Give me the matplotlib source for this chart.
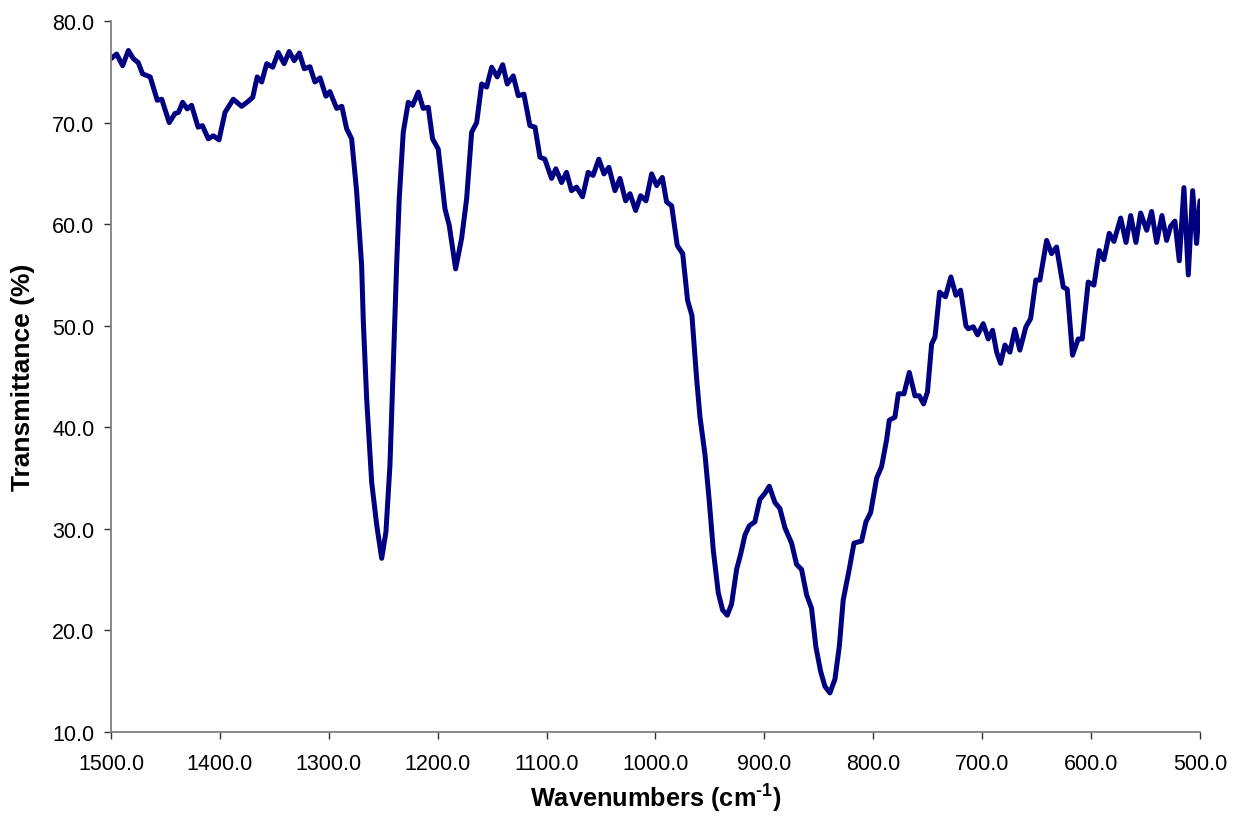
import numpy as np
import matplotlib
matplotlib.use('Agg')
import matplotlib.pyplot as plt

plt.rcParams['font.family'] = ['Liberation Sans', 'DejaVu Sans']
plt.rcParams['mathtext.fontset'] = 'custom'
plt.rcParams['mathtext.rm'] = 'Liberation Sans'
plt.rcParams['mathtext.bf'] = 'Liberation Sans:bold'

# FTIR spectrum, wavenumber (cm-1) vs transmittance (%)
wavenumber = [
    1500, 1494.8, 1489.3, 1484, 1479.5, 1474.9, 1471, 1464, 1457.5, 1453.4,
    1446.5, 1441.2, 1438, 1434.2, 1430, 1426, 1420, 1416, 1410.6, 1406,
    1400.8, 1395.3, 1387.7, 1380, 1373.9, 1369.8, 1365.7, 1361.6, 1357, 1351.5,
    1346.4, 1341, 1336.3, 1331.7, 1327, 1322.5, 1317.3, 1312.7, 1308, 1302.6,
    1299, 1292.7, 1288, 1283.6, 1279, 1274.4, 1269.8, 1268.3, 1265.2, 1260.6,
    1256, 1251.4, 1247.5, 1243.8, 1240.8, 1237.7, 1235.3, 1231.6, 1227, 1223,
    1217.8, 1213.3, 1208.6, 1204.7, 1199.5, 1193.3, 1189.4, 1183.5, 1178, 1173.4,
    1168.8, 1164.2, 1159.6, 1155, 1150.4, 1145.3, 1140.3, 1136.1, 1130.6, 1126,
    1120.8, 1115.3, 1110.6, 1106.1, 1101.6, 1095.4, 1091.5, 1086.2, 1081.7, 1077.1,
    1072.5, 1067, 1061.8, 1057.3, 1052, 1047.3, 1042.8, 1037.2, 1032.6, 1027.4,
    1023.4, 1018.2, 1013.6, 1008.7, 1003.5, 998.9, 993.7, 989.8, 985.1, 980,
    975, 970.5, 966.5, 962.2, 959.1, 954.5, 950.6, 946.9, 942.3, 938.3,
    934.1, 930.1, 925.5, 921.8, 917.8, 913.9, 908.7, 904.1, 899.5, 895.5,
    890.3, 885.7, 881.1, 875, 870.4, 865.8, 861.2, 856.7, 852.7, 848.4,
    844.4, 839.8, 835.2, 831.2, 827.6, 822.1, 817.7, 810.7, 806.7, 802.4,
    796.9, 792.3, 787.7, 785.3, 780.1, 777, 771.8, 766.9, 761.7, 757.7,
    753.8, 750.2, 746.4, 743.3, 739.1, 733.7, 728.7, 724.1, 719.8, 714.9,
    712.8, 708.2, 704.2, 699, 694.4, 690.4, 686.7, 683.1, 679.1, 674.5,
    670, 665.4, 659.8, 655.5, 650.7, 647, 640.8, 636.3, 631.7, 625.5,
    621.9, 617, 611.8, 608.1, 602.6, 597.4, 592.5, 588.2, 583.3, 579,
    572.8, 567.9, 563.6, 558.8, 554.5, 548.9, 544.4, 539.8, 534.9, 530.6,
    526.9, 523, 519, 514.7, 510.7, 506.7, 503.1, 500,
]
transmittance = [
    76.3, 76.75, 75.6, 77.1, 76.3, 75.9, 74.8, 74.5, 72.2, 72.3,
    70.0, 70.9, 71.0, 72.0, 71.35, 71.7, 69.55, 69.7, 68.4, 68.7,
    68.3, 71.0, 72.3, 71.6, 72.1, 72.5, 74.5, 74.0, 75.8, 75.45,
    76.9, 75.8, 77.0, 76.1, 76.85, 75.3, 75.5, 74.0, 74.4, 72.6,
    73.05, 71.4, 71.6, 69.4, 68.4, 63.2, 55.9, 50.5, 42.8, 34.6,
    30.4, 27.1, 29.7, 36.3, 46.1, 55.9, 62.5, 69.05, 72.0, 71.7,
    73.0, 71.4, 71.5, 68.4, 67.4, 61.5, 59.9, 55.6, 58.6, 62.5,
    69.05, 70.0, 73.8, 73.5, 75.45, 74.5, 75.7, 73.8, 74.6, 72.65,
    72.8, 69.7, 69.55, 66.6, 66.4, 64.5, 65.45, 64.1, 65.1, 63.3,
    63.65, 62.7, 65.1, 64.8, 66.4, 64.95, 65.6, 63.3, 64.5, 62.3,
    63.0, 61.35, 62.8, 62.3, 64.95, 63.8, 64.6, 62.2, 61.8, 57.9,
    57.1, 52.5, 51.0, 44.8, 41.0, 37.3, 32.75, 27.9, 23.7, 22.0,
    21.5, 22.6, 26.0, 27.5, 29.4, 30.3, 30.7, 32.9, 33.5, 34.2,
    32.6, 32.0, 30.1, 28.6, 26.5, 26.0, 23.5, 22.2, 18.4, 16.0,
    14.5, 13.85, 15.2, 18.4, 23.0, 26.0, 28.6, 28.8, 30.7, 31.6,
    35.0, 36.15, 38.8, 40.7, 41.0, 43.3, 43.3, 45.4, 43.1, 43.1,
    42.3, 43.5, 48.2, 48.9, 53.3, 52.85, 54.8, 53.0, 53.5, 50.0,
    49.7, 49.9, 49.1, 50.2, 48.7, 49.55, 47.4, 46.3, 48.1, 47.4,
    49.65, 47.6, 49.9, 50.7, 54.5, 54.5, 58.4, 57.1, 57.75, 53.8,
    53.6, 47.1, 48.7, 48.7, 54.3, 54.0, 57.4, 56.5, 59.1, 58.3,
    60.6, 58.2, 60.85, 58.2, 61.1, 59.4, 61.25, 58.2, 60.85, 58.4,
    59.8, 60.3, 56.4, 63.6, 55.0, 63.3, 58.1, 62.3,
]

xticks = [1500, 1400, 1300, 1200, 1100, 1000, 900, 800, 700, 600, 500]
yticks = [10, 20, 30, 40, 50, 60, 70, 80]

fig = plt.figure(figsize=(12.33, 8.28), dpi=100)
ax = fig.add_axes([0.090, 0.1147, 0.8832, 0.8587])

ax.plot(wavenumber, transmittance, color='#000080', lw=3.6,
        solid_joinstyle='round', solid_capstyle='round')

ax.set_xlim(1500, 500)
ax.set_ylim(10, 80)
ax.set_xticks(xticks)
ax.set_yticks(yticks)
ax.set_xticklabels(['%.1f' % v for v in xticks])
ax.set_yticklabels(['%.1f' % v for v in yticks])

for s in ['top', 'right']:
    ax.spines[s].set_visible(False)
for s in ['left', 'bottom']:
    ax.spines[s].set_color('#808080')
    ax.spines[s].set_linewidth(1.3)

ax.tick_params(axis='both', direction='out', length=5, width=1,
               color='#303030', labelsize=15.5)
ax.tick_params(axis='x', pad=10)
ax.tick_params(axis='y', pad=7)

ax.set_xlabel('Wavenumbers (cm$^{\\mathbf{\u2010}\\mathbf{1}}$)', fontsize=18.3,
              fontweight='bold', labelpad=6)
ax.set_ylabel('Transmittance (%)', fontsize=19, fontweight='bold',
              labelpad=12)

fig.savefig('out.png', dpi=100)
